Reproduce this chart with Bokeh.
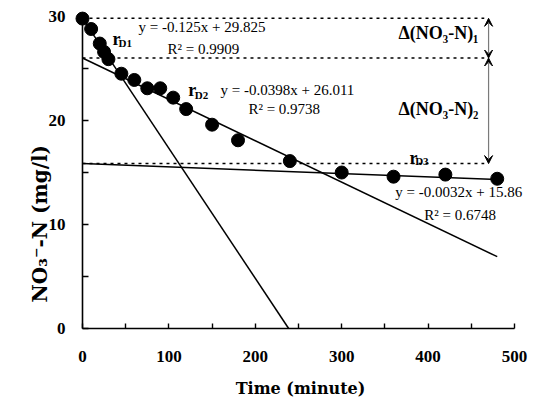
from math import pi

from bokeh.plotting import figure
from bokeh.models import Range1d, Label, Arrow, VeeHead, FixedTicker
from bokeh.embed import file_html
from bokeh.resources import INLINE

# Measured nitrate-nitrogen concentration over time
time_min = [0, 10, 20, 25, 30, 45, 60, 75, 90, 105, 120, 150, 180, 240, 300, 360, 420, 480]
no3_n = [29.8, 28.8, 27.4, 26.6, 25.9, 24.5, 23.9, 23.1, 23.1, 22.2, 21.1, 19.6,
         18.1, 16.1, 15.0, 14.6, 14.8, 14.4]

# Linear fits for the three denitrification stages (rD1, rD2, rD3)
fit_slopes = [-0.125, -0.0398, -0.0032]
fit_intercepts = [29.825, 26.011, 15.86]
fit_r2 = ["0.9909", "0.9738", "0.6748"]
stage_names = ["D1", "D2", "D3"]
delta_names = ["1", "2"]

x_ticks = [0, 100, 200, 300, 400, 500]
x_minor = [50, 150, 250, 350, 450]
y_ticks = [0, 10, 20, 30]
y_minor = [5, 15, 25]

SERIF = "Liberation Serif"
WIDE_SERIF = "DejaVu Serif"

# The frame fills the whole canvas; both axes sit at the data origin
p = figure(width=540, height=413,
           x_range=Range1d(-94.9, 530.1), y_range=Range1d(-8.17, 31.54),
           output_backend="svg", toolbar_location=None,
           min_border_left=0, min_border_right=0, min_border_top=0, min_border_bottom=0)
p.outline_line_color = None
p.grid.visible = False
p.background_fill_color = "white"
p.border_fill_color = "white"

for ax in (p.xaxis, p.yaxis):
    ax.fixed_location = 0
    ax.axis_line_width = 1.6
    ax.axis_line_color = "black"
    ax.major_tick_out = 0
    ax.minor_tick_out = 0
    ax.major_tick_line_width = 1.4
    ax.minor_tick_line_width = 1.4
    ax.major_label_text_font = SERIF
    ax.major_label_text_font_style = "bold"
    ax.major_label_text_font_size = "17px"
    ax.major_label_text_color = "black"

p.xaxis.bounds = (0, 500)
p.xaxis.ticker = FixedTicker(ticks=x_ticks, minor_ticks=x_minor)
p.xaxis.major_tick_in = 5
p.xaxis.minor_tick_in = 5
p.xaxis.major_label_standoff = 22

p.yaxis.bounds = (0, 30)
p.yaxis.ticker = FixedTicker(ticks=y_ticks, minor_ticks=y_minor)
p.yaxis.major_tick_in = 6
p.yaxis.minor_tick_in = 6
p.yaxis.major_label_standoff = 17


def text(x, y, s, size="15px", bold=False, baseline="middle", align="left", angle=0.0,
         font=SERIF):
    p.add_layout(Label(x=x, y=y, text=s, text_font=font, text_font_size=size,
                       text_font_style="bold" if bold else "normal", angle=angle,
                       text_align=align, text_baseline=baseline, text_color="black"))


# Axis titles
text(252.3, -5.77, "Time (minute)", size="16px", bold=True, align="center", font=WIDE_SERIF)
text(-49.5, 2.5, "NO\u2083\u207b-N (mg/l)", size="20px", bold=True, align="left",
     angle=pi / 2, font=WIDE_SERIF)

# Dotted levels at each stage's starting concentration
p.segment(x0=[0] * 3, y0=fit_intercepts, x1=[465] * 3, y1=fit_intercepts,
          line_color="black", line_width=1.5, line_dash="3 4")

# Fitted lines: the first stage runs down to zero, the others to the last sample
fit_x_end = [-fit_intercepts[0] / fit_slopes[0], time_min[-1], time_min[-1]]
fit_y_end = [s * x + b for s, x, b in zip(fit_slopes, fit_x_end, fit_intercepts)]
p.segment(x0=[0] * 3, y0=fit_intercepts, x1=fit_x_end, y1=fit_y_end,
          line_color="black", line_width=1.5)

p.scatter(time_min, no3_n, size=13, color="black")

# Concentration drops between stages
for y0, y1 in [(fit_intercepts[1], fit_intercepts[0]), (fit_intercepts[2], fit_intercepts[1])]:
    p.add_layout(Arrow(x_start=470, y_start=y0, x_end=470, y_end=y1,
                       line_color="#7a7a7a", line_width=1.2,
                       start=VeeHead(size=8, fill_color="black", line_color="black"),
                       end=VeeHead(size=8, fill_color="black", line_color="black")))

# Regression equations
eq_pos = [(64.8, 29.0), (159.7, 22.98), (362.0, 13.08)]
r2_pos = [(98.4, 26.85), (192.0, 21.15), (395.5, 10.96)]
for s, b, r2, (ex, ey), (rx, ry) in zip(fit_slopes, fit_intercepts, fit_r2, eq_pos, r2_pos):
    text(ex, ey, f"y = {s}x + {b}")
    text(rx, ry, f"R\u00b2 = {r2}")

# Stage rate labels r_D1, r_D2, r_D3
r_pos = [(34.7, 27.8), (122.4, 22.9), (378.5, 16.35)]
sub_pos = [(41.7, 27.5), (130.0, 22.5), (385.0, 16.06)]
for name, (rx, ry), (sx, sy) in zip(stage_names, r_pos, sub_pos):
    text(rx, ry, "r", size="18px", bold=True, baseline="alphabetic")
    text(sx, sy, name, size="11px", bold=True, baseline="alphabetic")

# Concentration-drop labels
for name, (dx, dy) in zip(delta_names, [(365.7, 28.37), (365.7, 21.15)]):
    text(dx, dy, "\u0394(NO\u2083-N)" + chr(0x2080 + int(name)), size="18px", bold=True)

open("out.html", "w").write(file_html(p, INLINE))
